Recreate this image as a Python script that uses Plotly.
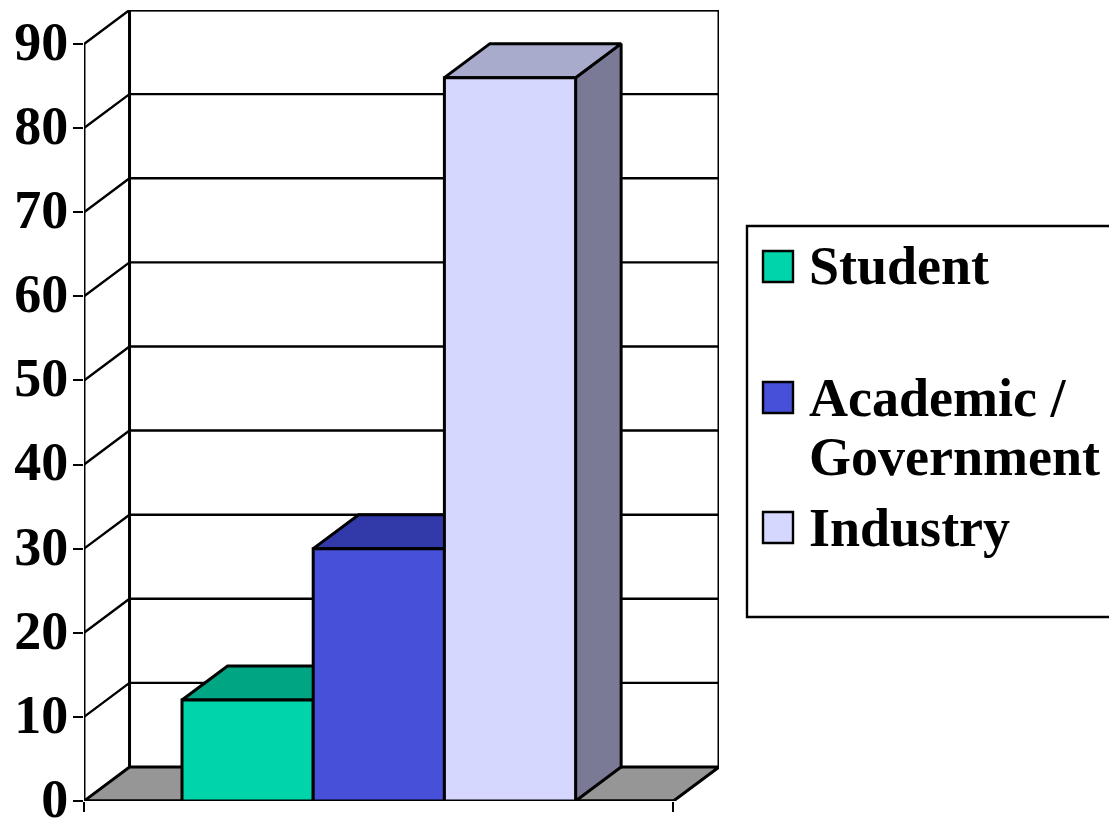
import plotly.graph_objects as go

# ---- data ----
categories = ["Student", "Academic / Government", "Industry"]
values = [12, 30, 86]
tick_values = [0, 10, 20, 30, 40, 50, 60, 70, 80, 90]
legend_lines = [["Student"], ["Academic /", "Government"], ["Industry"]]

# ---- style ----
front_colors = ["#00D4AA", "#4650D8", "#D5D7FF"]
top_colors = ["#00A584", "#3239A8", "#A8ABCC"]
side_colors = ["#007D66", "#262B80", "#7A7A96"]
FLOOR = "#969696"
FONT = "Liberation Serif"
FS = 54
W, H = 1109, 818
L, R, T, B = 84, 719, 10, 801      # plot rectangle in pixels
X0, X1 = -1.247, 3.246             # front axis extent, in bar units
DX, DY = 0.347, 4.04               # oblique depth, in data units
BAR = 1.0
LW = 3.0
GRID_LW = 2.4


def px(x):
    return (x - L) / (R - L)


def py(y):
    return (B - y) / (B - T)


fig = go.Figure()


def poly(xs, ys, fill, z, lw=LW):
    fig.add_trace(go.Scatter(
        x=xs, y=ys, mode="lines", fill="toself", fillcolor=fill,
        line=dict(color="black", width=lw), hoverinfo="skip",
        showlegend=False, cliponaxis=False, zorder=z))


def line(xs, ys, z, lw=LW):
    fig.add_trace(go.Scatter(
        x=xs, y=ys, mode="lines", line=dict(color="black", width=lw),
        hoverinfo="skip", showlegend=False, cliponaxis=False, zorder=z))


top_tick = tick_values[-1]

# floor
poly([X0, X0 + DX, X1 + DX, X1, X0], [0, DY, DY, 0, 0], FLOOR, 0)
# gridlines on the walls
for t in tick_values[1:]:
    line([X0, X0 + DX, X1 + DX], [t, t + DY, t + DY], 0, GRID_LW)
# walls and front axes
line([X0 + DX, X0 + DX], [DY, top_tick + DY], 0)
line([X1 + DX, X1 + DX], [DY, top_tick + DY], 0)
line([X0 + DX, X1 + DX], [top_tick + DY, top_tick + DY], 0)
line([X0, X0], [0, top_tick], 0)
line([X0, X1], [0, 0], 0)

# bars, left to right, later bars hiding earlier sides
for i, (c, v) in enumerate(zip(categories, values)):
    a, b = i - BAR / 2, i + BAR / 2
    z = 1 + 2 * i
    poly([b, b + DX, b + DX, b, b], [0, DY, v + DY, v, 0], side_colors[i], z)
    poly([a, a + DX, b + DX, b, a], [v, v + DY, v + DY, v, v], top_colors[i], z)
    fig.add_trace(go.Bar(
        x=[i], y=[v], width=BAR, name=c, showlegend=False,
        marker=dict(color=front_colors[i], line=dict(color="black", width=LW)),
        zorder=z + 1))

# legend box, swatches, labels
shapes = [dict(type="rect", xref="paper", yref="paper",
               x0=px(747), x1=px(1112), y0=py(617), y1=py(226),
               line=dict(color="black", width=2.4), fillcolor="white")]
swatch_tops = [251, 382, 512]
first_line_y = [266, 398, 528]
annotations = []
for i, lines in enumerate(legend_lines):
    shapes.append(dict(type="rect", xref="paper", yref="paper",
                       x0=px(763), x1=px(793),
                       y0=py(swatch_tops[i] + 31), y1=py(swatch_tops[i]),
                       line=dict(color="black", width=2.4),
                       fillcolor=front_colors[i]))
    for j, txt in enumerate(lines):
        annotations.append(dict(
            text=txt, xref="paper", yref="paper", showarrow=False,
            x=px(807), y=py(first_line_y[i] + 59 * j),
            xanchor="left", yanchor="middle",
            font=dict(family=FONT, size=FS, color="black", weight="bold")))

fig.update_layout(
    width=W, height=H, autosize=False,
    margin=dict(l=L, r=W - R, t=T, b=H - B, pad=0, autoexpand=False),
    paper_bgcolor="white", plot_bgcolor="white",
    showlegend=False, barmode="overlay",
    shapes=shapes, annotations=annotations,
    font=dict(family=FONT, color="black"),
    xaxis=dict(range=[X0, X1 + DX], showgrid=False, zeroline=False,
               showline=False, ticks="outside", ticklen=10, tickwidth=2.4,
               tickcolor="black", tickvals=[X0, X1], ticktext=["", ""],
               automargin=False),
    yaxis=dict(range=[0, top_tick + DY], showgrid=False, zeroline=False,
               showline=False, ticks="outside", ticklen=10, tickwidth=2.4,
               tickcolor="black", tickvals=tick_values, automargin=False,
               tickfont=dict(family=FONT, size=FS, color="black", weight="bold"),
               ticklabeloverflow="allow", ticklabelstandoff=-6,
               ticklabelshift=-3),
)

fig.write_html(
    "out.html",
    config=dict(displayModeBar=False),
    post_script="document.body.style.margin='0';document.documentElement.style.overflow='hidden';",
)
